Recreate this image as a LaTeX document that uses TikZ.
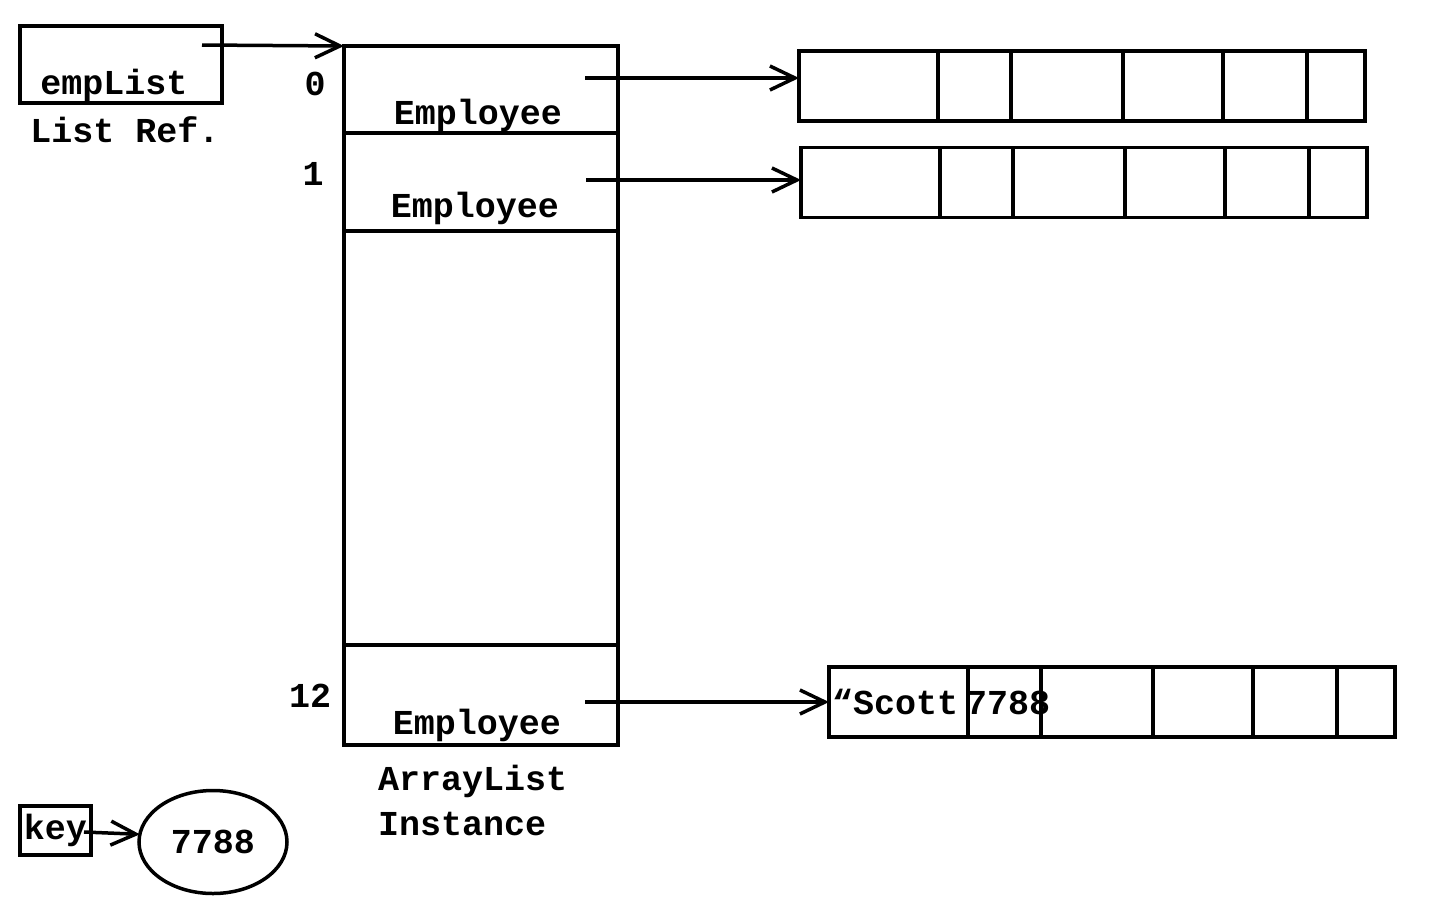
\documentclass[tikz,border=0pt]{standalone}
\usepackage{fontspec}
\setmainfont{Liberation Mono}
\usetikzlibrary{positioning,shapes.geometric,arrows.meta}

\tikzset{
  cell/.style={draw, line width=3.5pt, inner sep=0pt, outer sep=0pt, minimum height=70pt},
  slot/.style={draw, line width=3.5pt, inner sep=0pt, outer sep=0pt, minimum width=274pt},
  txt/.style={inner sep=0pt, font=\bfseries\fontsize{35}{45}\selectfont},
  ref/.style={line width=3.5pt, -{Straight Barb[length=25pt,width=24pt,line width=3.5pt]}},
}

% one Employee record: six fields in a row
\newcommand{\emprecord}[3]{%
  \node[cell, minimum width=139pt, anchor=west] (#1a) at (#2,#3) {};
  \node[cell, minimum width=73pt, right=0pt of #1a] (#1b) {};
  \node[cell, minimum width=112pt, right=0pt of #1b] (#1c) {};
  \node[cell, minimum width=100pt, right=0pt of #1c] (#1d) {};
  \node[cell, minimum width=84pt, right=0pt of #1d] (#1e) {};
  \node[cell, minimum width=58pt, right=0pt of #1e] (#1f) {};
}

\begin{document}
\begin{tikzpicture}[x=1pt, y=-1pt]
  \useasboundingbox (0,0) rectangle (1440,900);

  % list reference
  \node[draw, line width=3.5pt, inner sep=0pt, outer sep=0pt, minimum width=202pt, minimum height=77pt] (reflist) at (121,64.5) {};
  \node[txt, anchor=base] (reflistname) at (114,94) {empList};
  \node[txt, anchor=base] (reflistcap) at (125,142) {List Ref.};
  \coordinate (refstart) at (202,45);

  % ArrayList slots
  \node[slot, minimum height=87pt] (slot0) at (481,89.5) {};
  \node[slot, minimum height=98pt, below=0pt of slot0] (slot1) {};
  \node[slot, minimum height=414pt, below=0pt of slot1] (slotgap) {};
  \node[slot, minimum height=100pt, below=0pt of slotgap] (slot12) {};

  \node[txt, anchor=base] (idx0) at (315,95) {0};
  \node[txt, anchor=base] (idx1) at (313,185) {1};
  \node[txt, anchor=base] (idx12) at (310,707) {12};

  \node[txt, anchor=base] (emp0) at (478,124) {Employee};
  \node[txt, anchor=base] (emp1) at (475,217) {Employee};
  \node[txt, anchor=base] (emp12) at (477,734) {Employee};

  \node[txt, anchor=base west] (listcap) at (378,790) {ArrayList};
  \node[txt, anchor=base west] (listcap2) at (378,835) {Instance};

  \coordinate (ptr0) at (585,78);
  \coordinate (ptr1) at (586,180);
  \coordinate (ptr12) at (585,702);

  % Employee objects
  \emprecord{rec0}{799}{86}
  \emprecord{rec1}{801}{182.5}
  \emprecord{rec12}{829}{702}

  \node[txt, anchor=base west] (recname) at (832,714) {“Scott};
  \node[txt, anchor=base west] (recno) at (966,714) {7788};

  % search key
  \node[draw, line width=3.5pt, inner sep=0pt, outer sep=0pt, minimum width=71pt, minimum height=49pt, txt] (key) at (55.5,830.5) {key};
  \node[draw, ellipse, line width=3.5pt, inner sep=0pt, outer sep=0pt, minimum width=148pt, minimum height=103pt, txt] (keyval) at (213,842) {7788};
  \coordinate (keystart) at (84,832);

  % references
  \draw[ref] (refstart) -- (slot0.north west);
  \draw[ref] (ptr0) -- (ptr0 -| rec0a.west);
  \draw[ref] (ptr1) -- (ptr1 -| rec1a.west);
  \draw[ref] (ptr12) -- (rec12a.west);
  \draw[ref] (keystart) -- (keyval.174);
\end{tikzpicture}
\end{document}
